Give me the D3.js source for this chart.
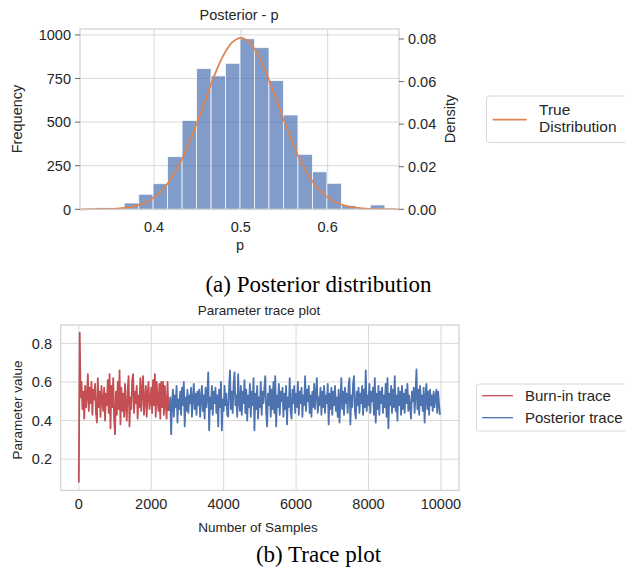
<!DOCTYPE html>
<html>
<head>
<meta charset="utf-8">
<script src="https://cdn.jsdelivr.net/npm/d3@7"></script>
<style>
  body { margin: 0; background: #fff; }
  text { font-family: "Liberation Sans", Arial, sans-serif; fill: #262626; }
  .caption { font-family: "Liberation Serif", "Times New Roman", serif; fill: #000; }
</style>
</head>
<body>
<div id="root"></div>
<script>
// histogram of the posterior samples (bin edges + counts)
const binEdges = [0.3322, 0.3489, 0.3656, 0.3823, 0.3989, 0.4156, 0.4323, 0.4490, 0.4657, 0.4824,
                  0.4991, 0.5157, 0.5324, 0.5491, 0.5658, 0.5825, 0.5992, 0.6159, 0.6325, 0.6492, 0.6659];
const binCounts = [9, 5, 36, 86, 147, 302, 509, 807, 765, 837, 978, 927, 738, 541, 315, 215, 149, 21, 8, 25];

// "True Distribution" curve
const curveX = [0.315, 0.32, 0.33, 0.34, 0.35, 0.36, 0.37, 0.38, 0.39, 0.40, 0.41, 0.42, 0.43, 0.44, 0.45,
                0.46, 0.47, 0.48, 0.49, 0.50, 0.51, 0.52, 0.53, 0.54, 0.55, 0.56, 0.57, 0.58, 0.59, 0.60,
                0.61, 0.62, 0.63, 0.64, 0.65, 0.66, 0.67, 0.68, 0.682];
const curveY = [0.0000, 0.0000, 0.0001, 0.0001, 0.0002, 0.0004, 0.0009, 0.0017, 0.0032, 0.0056, 0.0093,
                0.0146, 0.0218, 0.0308, 0.0413, 0.0525, 0.0633, 0.0724, 0.0784, 0.0805, 0.0784, 0.0724,
                0.0633, 0.0525, 0.0413, 0.0308, 0.0218, 0.0146, 0.0093, 0.0056, 0.0032, 0.0017, 0.0009,
                0.0004, 0.0002, 0.0001, 0.0001, 0.0000, 0.0000];

const histXTicks = [0.4, 0.5, 0.6];
const freqTicks = [0, 250, 500, 750, 1000];
const densTicks = [0, 0.02, 0.04, 0.06, 0.08];

// trace, one value every 25 samples
const traceStep = 25;
const burnInTrace = [
  0.08, 0.855, 0.52, 0.60, 0.46, 0.55, 0.41, 0.58, 0.47, 0.53,
  0.64, 0.45, 0.57, 0.49, 0.60, 0.43, 0.56, 0.51, 0.59, 0.44,
  0.39, 0.62, 0.47, 0.55, 0.42, 0.58, 0.50, 0.45, 0.57, 0.40,
  0.54, 0.48, 0.61, 0.44, 0.64, 0.36, 0.58, 0.47, 0.62, 0.41,
  0.33, 0.55, 0.43, 0.60, 0.46, 0.66, 0.38, 0.57, 0.45, 0.54,
  0.42, 0.59, 0.47, 0.40, 0.56, 0.63, 0.37, 0.52, 0.46, 0.61,
  0.64, 0.44, 0.55, 0.49, 0.58, 0.41, 0.53, 0.47, 0.62, 0.45,
  0.56, 0.63, 0.43, 0.51, 0.58, 0.42, 0.54, 0.60, 0.46, 0.50,
  0.57, 0.44, 0.61, 0.48, 0.64, 0.42, 0.60, 0.51, 0.45, 0.59,
  0.41, 0.60, 0.47, 0.60, 0.43, 0.58, 0.49, 0.41, 0.60, 0.45
];
const posteriorStart = 2500;
const posteriorTrace = [
  0.45, 0.52, 0.33, 0.49, 0.56, 0.42, 0.53, 0.47, 0.58, 0.39,
  0.51, 0.46, 0.55, 0.43, 0.57, 0.48, 0.60, 0.37, 0.52, 0.45,
  0.56, 0.44, 0.53, 0.49, 0.57, 0.42, 0.51, 0.59, 0.46, 0.54,
  0.43, 0.55, 0.48, 0.56, 0.42, 0.52, 0.58, 0.45, 0.53, 0.41,
  0.57, 0.47, 0.54, 0.65, 0.35, 0.52, 0.46, 0.58, 0.43, 0.55,
  0.49, 0.57, 0.44, 0.53, 0.37, 0.56, 0.47, 0.60, 0.35, 0.51,
  0.45, 0.58, 0.48, 0.54, 0.43, 0.42, 0.57, 0.66, 0.46, 0.55,
  0.44, 0.59, 0.65, 0.48, 0.53, 0.42, 0.64, 0.50, 0.45, 0.58,
  0.43, 0.55, 0.49, 0.61, 0.44, 0.56, 0.40, 0.53, 0.47, 0.59,
  0.42, 0.55, 0.48, 0.62, 0.35, 0.54, 0.46, 0.58, 0.41, 0.52,
  0.47, 0.60, 0.43, 0.55, 0.49, 0.57, 0.63, 0.44, 0.37, 0.54,
  0.48, 0.58, 0.42, 0.56, 0.46, 0.60, 0.44, 0.63, 0.37, 0.53,
  0.47, 0.59, 0.43, 0.55, 0.50, 0.57, 0.42, 0.54, 0.46, 0.58,
  0.38, 0.52, 0.47, 0.62, 0.45, 0.41, 0.56, 0.49, 0.58, 0.44,
  0.54, 0.47, 0.60, 0.43, 0.55, 0.49, 0.57, 0.42, 0.53, 0.48,
  0.63, 0.45, 0.56, 0.50, 0.58, 0.44, 0.53, 0.42, 0.55, 0.47,
  0.59, 0.46, 0.54, 0.62, 0.44, 0.52, 0.48, 0.57, 0.43, 0.55,
  0.47, 0.58, 0.44, 0.53, 0.49, 0.59, 0.38, 0.54, 0.46, 0.57,
  0.43, 0.55, 0.48, 0.58, 0.45, 0.52, 0.42, 0.56, 0.39, 0.50,
  0.62, 0.46, 0.55, 0.43, 0.57, 0.49, 0.54, 0.44, 0.58, 0.62,
  0.38, 0.53, 0.47, 0.59, 0.63, 0.45, 0.41, 0.55, 0.48, 0.57,
  0.44, 0.54, 0.49, 0.58, 0.43, 0.56, 0.47, 0.66, 0.45, 0.53,
  0.48, 0.59, 0.44, 0.55, 0.50, 0.57, 0.43, 0.62, 0.39, 0.54,
  0.46, 0.58, 0.43, 0.55, 0.49, 0.57, 0.44, 0.53, 0.47, 0.59,
  0.42, 0.62, 0.36, 0.54, 0.48, 0.58, 0.44, 0.56, 0.47, 0.63,
  0.45, 0.53, 0.40, 0.57, 0.48, 0.55, 0.43, 0.58, 0.46, 0.54,
  0.44, 0.56, 0.49, 0.59, 0.45, 0.53, 0.47, 0.41, 0.55, 0.50,
  0.57, 0.44, 0.54, 0.665, 0.46, 0.56, 0.43, 0.58, 0.48, 0.53,
  0.45, 0.57, 0.39, 0.52, 0.59, 0.46, 0.55, 0.43, 0.56, 0.48,
  0.53, 0.45, 0.55, 0.47, 0.52, 0.56, 0.44, 0.55, 0.48, 0.43
];
const traceXTicks = [0, 2000, 4000, 6000, 8000, 10000];
const traceYTicks = [0.2, 0.4, 0.6, 0.8];

const outerWidth = 625;
const outerHeight = 573;

const blue = "#4c72b0";
const orange = "#dd8452";
const red = "#c44e52";
const gridColor = "#d9d9d9";
const spineColor = "#cfcfcf";

const svg = d3.select("#root")
  .append("svg")
  .attr("width", outerWidth)
  .attr("height", outerHeight);

// ---------- (a) posterior histogram ----------
const histBox = { left: 80, right: 399, top: 29, bottom: 209.3 };

const hx = d3.scaleLinear().domain([0.3147, 0.6822]).range([histBox.left, histBox.right]);
const hy = d3.scaleLinear().domain([0, 1034]).range([histBox.bottom, histBox.top]);
const hy2 = d3.scaleLinear().domain([0, 0.0847]).range([histBox.bottom, histBox.top]);

const g1 = svg.append("g");

g1.selectAll(".hgrid").data(freqTicks).enter().append("line")
  .attr("x1", histBox.left).attr("x2", histBox.right)
  .attr("y1", d => hy(d)).attr("y2", d => hy(d))
  .attr("stroke", gridColor).attr("stroke-width", 1);

g1.selectAll(".vgrid").data(histXTicks).enter().append("line")
  .attr("x1", d => hx(d)).attr("x2", d => hx(d))
  .attr("y1", histBox.top).attr("y2", histBox.bottom)
  .attr("stroke", gridColor).attr("stroke-width", 1);

const bins = binCounts.map((c, i) => ({ x0: binEdges[i], x1: binEdges[i + 1], count: c }));

g1.selectAll(".bar").data(bins).enter().append("rect")
  .attr("class", "bar")
  .attr("x", d => hx(d.x0))
  .attr("y", d => hy(d.count))
  .attr("width", d => hx(d.x1) - hx(d.x0))
  .attr("height", d => hy(0) - hy(d.count))
  .attr("fill", blue)
  .attr("fill-opacity", 0.7)
  .attr("stroke", "#fff")
  .attr("stroke-opacity", 0.8)
  .attr("stroke-width", 0.9);

const densLine = d3.line()
  .x((d, i) => hx(curveX[i]))
  .y(d => hy2(d))
  .curve(d3.curveCatmullRom);

g1.append("path")
  .datum(curveY)
  .attr("d", densLine)
  .attr("fill", "none")
  .attr("stroke", orange)
  .attr("stroke-width", 1.8);

g1.append("rect")
  .attr("x", histBox.left).attr("y", histBox.top)
  .attr("width", histBox.right - histBox.left).attr("height", histBox.bottom - histBox.top)
  .attr("fill", "none").attr("stroke", spineColor).attr("stroke-width", 1.2);

// left axis
g1.selectAll(".ltick").data(freqTicks).enter().append("line")
  .attr("x1", histBox.left - 5).attr("x2", histBox.left)
  .attr("y1", d => hy(d)).attr("y2", d => hy(d))
  .attr("stroke", "#555").attr("stroke-width", 0.9);
g1.selectAll(".llab").data(freqTicks).enter().append("text")
  .attr("x", histBox.left - 9).attr("y", d => hy(d))
  .attr("dy", "0.36em")
  .attr("text-anchor", "end")
  .style("font-size", "14.5px")
  .text(d => d);

// right axis
g1.selectAll(".rtick").data(densTicks).enter().append("line")
  .attr("x1", histBox.right).attr("x2", histBox.right + 5)
  .attr("y1", d => hy2(d)).attr("y2", d => hy2(d))
  .attr("stroke", "#555").attr("stroke-width", 0.9);
g1.selectAll(".rlab").data(densTicks).enter().append("text")
  .attr("x", histBox.right + 9).attr("y", d => hy2(d))
  .attr("dy", "0.36em")
  .style("font-size", "14.5px")
  .text(d => d3.format(".2f")(d));

// bottom labels
g1.selectAll(".xlab").data(histXTicks).enter().append("text")
  .attr("x", d => hx(d)).attr("y", 231.7)
  .attr("text-anchor", "middle")
  .style("font-size", "14.5px")
  .text(d => d3.format(".1f")(d));

g1.append("text").attr("x", 240).attr("y", 250)
  .attr("text-anchor", "middle").style("font-size", "14.5px").text("p");

g1.append("text").attr("x", 239).attr("y", 20)
  .attr("text-anchor", "middle").style("font-size", "14.5px").text("Posterior - p");

g1.append("text")
  .attr("transform", `translate(21.5, 119) rotate(-90)`)
  .attr("text-anchor", "middle").style("font-size", "14.5px").text("Frequency");

g1.append("text")
  .attr("transform", `translate(454.5, 119) rotate(-90)`)
  .attr("text-anchor", "middle").style("font-size", "14.5px").text("Density");

// legend (a)
const leg1 = svg.append("g");
leg1.append("rect")
  .attr("x", 486.5).attr("y", 96).attr("width", 160).attr("height", 46.5)
  .attr("rx", 3).attr("fill", "#fff").attr("stroke", "#d6d6d6").attr("stroke-width", 1);
leg1.append("line")
  .attr("x1", 492.7).attr("x2", 526.7).attr("y1", 119.7).attr("y2", 119.7)
  .attr("stroke", orange).attr("stroke-width", 1.8);
leg1.append("text").attr("x", 539).attr("y", 115).style("font-size", "15.5px").text("True");
leg1.append("text").attr("x", 539).attr("y", 132.4).style("font-size", "15.5px").text("Distribution");

svg.append("text").attr("class", "caption")
  .attr("x", 318.5).attr("y", 292)
  .attr("text-anchor", "middle")
  .style("font-size", "23px")
  .text("(a) Posterior distribution");

// ---------- (b) trace plot ----------
const traceBox = { left: 60.7, right: 459, top: 325, bottom: 490.3 };

const tx = d3.scaleLinear().domain([-500, 10500]).range([traceBox.left, traceBox.right]);
const ty = d3.scaleLinear().domain([0.039, 0.895]).range([traceBox.bottom, traceBox.top]);

const g2 = svg.append("g");

g2.selectAll(".hgrid").data(traceYTicks).enter().append("line")
  .attr("x1", traceBox.left).attr("x2", traceBox.right)
  .attr("y1", d => ty(d)).attr("y2", d => ty(d))
  .attr("stroke", gridColor).attr("stroke-width", 1);

g2.selectAll(".vgrid").data(traceXTicks).enter().append("line")
  .attr("x1", d => tx(d)).attr("x2", d => tx(d))
  .attr("y1", traceBox.top).attr("y2", traceBox.bottom)
  .attr("stroke", gridColor).attr("stroke-width", 1);

const burnLine = d3.line()
  .x((d, i) => tx(i * traceStep))
  .y(d => ty(d));
const postLine = d3.line()
  .x((d, i) => tx(posteriorStart + i * traceStep))
  .y(d => ty(d));

g2.append("path").datum(burnInTrace)
  .attr("d", burnLine)
  .attr("fill", "none").attr("stroke", red).attr("stroke-width", 1.8)
  .attr("stroke-linejoin", "round");

g2.append("path").datum(posteriorTrace)
  .attr("d", postLine)
  .attr("fill", "none").attr("stroke", blue).attr("stroke-width", 1.8)
  .attr("stroke-linejoin", "round");

g2.append("rect")
  .attr("x", traceBox.left).attr("y", traceBox.top)
  .attr("width", traceBox.right - traceBox.left).attr("height", traceBox.bottom - traceBox.top)
  .attr("fill", "none").attr("stroke", spineColor).attr("stroke-width", 1.2);

g2.selectAll(".ylab").data(traceYTicks).enter().append("text")
  .attr("x", 52).attr("y", d => ty(d))
  .attr("dy", "0.36em")
  .attr("text-anchor", "end")
  .style("font-size", "14.5px")
  .text(d => d3.format(".1f")(d));

g2.selectAll(".xlab").data(traceXTicks).enter().append("text")
  .attr("x", d => tx(d)).attr("y", 509.3)
  .attr("text-anchor", "middle")
  .style("font-size", "14.5px")
  .text(d => d);

g2.append("text").attr("x", 259).attr("y", 315)
  .attr("text-anchor", "middle").style("font-size", "13.5px").text("Parameter trace plot");

g2.append("text").attr("x", 258).attr("y", 531.5)
  .attr("text-anchor", "middle").style("font-size", "13.5px").text("Number of Samples");

g2.append("text")
  .attr("transform", `translate(22.4, 410) rotate(-90)`)
  .attr("text-anchor", "middle").style("font-size", "13.5px").text("Parameter value");

// legend (b)
const leg2 = svg.append("g");
leg2.append("rect")
  .attr("x", 476.5).attr("y", 384).attr("width", 170).attr("height", 47)
  .attr("rx", 3).attr("fill", "#fff").attr("stroke", "#d6d6d6").attr("stroke-width", 1);
const legItems = [
  { label: "Burn-in trace", color: red, y: 395.7 },
  { label: "Posterior trace", color: blue, y: 417.7 }
];
legItems.forEach(it => {
  leg2.append("line")
    .attr("x1", 482).attr("x2", 513).attr("y1", it.y).attr("y2", it.y)
    .attr("stroke", it.color).attr("stroke-width", 1.3);
  leg2.append("text").attr("x", 525).attr("y", it.y + 5)
    .style("font-size", "15px").text(it.label);
});

svg.append("text").attr("class", "caption")
  .attr("x", 318.5).attr("y", 562)
  .attr("text-anchor", "middle")
  .style("font-size", "23px")
  .text("(b) Trace plot");
</script>
</body>
</html>
